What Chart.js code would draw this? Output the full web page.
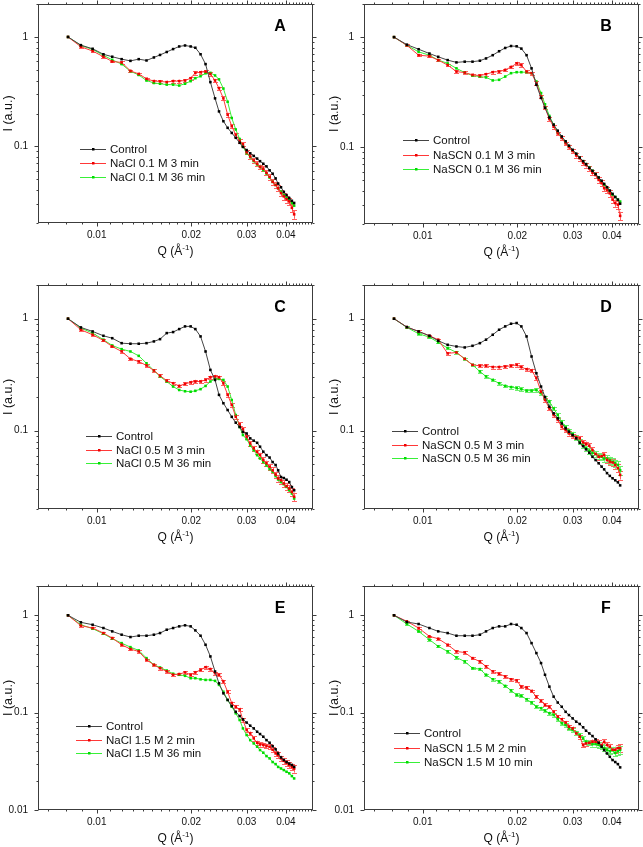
<!DOCTYPE html>
<html><head><meta charset="utf-8">
<script src="https://cdn.jsdelivr.net/npm/chart.js@4.4.1/dist/chart.umd.min.js"></script>
<style>
html,body{margin:0;padding:0;background:#fff;width:643px;height:847px;overflow:hidden;}
.cell{position:absolute;}
canvas{display:block;}
</style></head><body>
<div class="cell" style="left:0;top:0"><canvas id="cA" width="321" height="280"></canvas></div>
<div class="cell" style="left:321px;top:0"><canvas id="cB" width="322" height="280"></canvas></div>
<div class="cell" style="left:0;top:280px"><canvas id="cC" width="321" height="280"></canvas></div>
<div class="cell" style="left:321px;top:280px"><canvas id="cD" width="322" height="280"></canvas></div>
<div class="cell" style="left:0;top:560px"><canvas id="cE" width="321" height="287"></canvas></div>
<div class="cell" style="left:321px;top:560px"><canvas id="cF" width="322" height="287"></canvas></div>
<script>
const FONT = "'Liberation Sans', Arial, Helvetica, sans-serif";

// Q values (Å^-1) shared by all curves
const qValues = [0.0081,0.0089,0.0097,0.0105,0.0112,0.0120,0.0128,0.0136,0.0144,0.0152,0.0159,0.0167,0.0175,0.0183,0.0191,0.0199,0.0206,0.0214,0.0222,0.0230,0.0238,0.0245,0.0253,0.0261,0.0269,0.0277,0.0285,0.0292,0.0300,0.0308,0.0316,0.0324,0.0331,0.0339,0.0347,0.0355,0.0363,0.0371,0.0378,0.0386,0.0394,0.0402,0.0410,0.0418,0.0425];

// tick labels
const xTickLabels = [0.01, 0.02, 0.03, 0.04];
const yTickLabelsAD = [1, 0.1];
const yTickLabelsEF = [1, 0.1, 0.01];

// relative error of the time-resolved curves
const relErr = [0,0.02,0.02,0.02,0.02,0.025,0.025,0.025,0.025,0.03,0.03,0.03,0.03,0.03,0.03,0.035,0.035,0.035,0.035,0.035,0.035,0.035,0.04,0.04,0.04,0.04,0.04,0.045,0.045,0.045,0.05,0.05,0.05,0.055,0.055,0.06,0.06,0.06,0.065,0.065,0.07,0.07,0.075,0.08,0.09];

// Panel A
const ctrlA = [1.0,0.842,0.78,0.695,0.66,0.627,0.605,0.627,0.61,0.65,0.685,0.729,0.775,0.819,0.836,0.819,0.797,0.695,0.565,0.387,0.275,0.209,0.17,0.148,0.133,0.12,0.108,0.099,0.0927,0.0866,0.082,0.0775,0.0734,0.0695,0.0658,0.0605,0.0564,0.0511,0.0458,0.0424,0.0385,0.036,0.0338,0.0319,0.0305];
const redA = [1.0,0.814,0.744,0.66,0.597,0.585,0.49,0.46,0.415,0.395,0.393,0.387,0.395,0.395,0.40,0.42,0.47,0.476,0.483,0.46,0.40,0.34,0.275,0.195,0.153,0.128,0.112,0.105,0.0885,0.081,0.0745,0.0695,0.065,0.0627,0.0575,0.0528,0.0475,0.0445,0.0415,0.0375,0.035,0.033,0.0315,0.0275,0.024];
const greenA = [1.0,0.836,0.77,0.68,0.618,0.565,0.486,0.45,0.40,0.38,0.374,0.367,0.367,0.36,0.374,0.395,0.42,0.438,0.466,0.47,0.445,0.41,0.338,0.256,0.182,0.143,0.117,0.0995,0.0865,0.0797,0.0735,0.0685,0.065,0.0607,0.0566,0.052,0.0475,0.0445,0.0415,0.0387,0.036,0.034,0.0325,0.0304,0.0288];
// Panel B
const ctrlB = [1.0,0.854,0.776,0.709,0.662,0.618,0.589,0.598,0.598,0.61,0.64,0.685,0.744,0.797,0.83,0.825,0.786,0.685,0.52,0.369,0.28,0.228,0.186,0.16,0.141,0.125,0.113,0.103,0.0946,0.0873,0.0803,0.0745,0.07,0.0648,0.0609,0.0568,0.053,0.0495,0.0463,0.0432,0.0403,0.0376,0.0352,0.0333,0.0306];
const redB = [1.0,0.842,0.685,0.671,0.618,0.557,0.486,0.476,0.454,0.447,0.46,0.48,0.486,0.503,0.535,0.577,0.557,0.486,0.47,0.382,0.29,0.228,0.18,0.153,0.133,0.121,0.108,0.1,0.092,0.084,0.079,0.072,0.0686,0.064,0.0585,0.0557,0.0503,0.047,0.0423,0.0408,0.038,0.0333,0.031,0.030,0.0237];
const greenB = [1.0,0.842,0.734,0.685,0.618,0.577,0.52,0.476,0.447,0.438,0.43,0.404,0.409,0.438,0.47,0.48,0.48,0.48,0.47,0.395,0.31,0.245,0.192,0.16,0.136,0.122,0.11,0.101,0.093,0.0856,0.0802,0.0745,0.07,0.0655,0.0609,0.0568,0.0527,0.0487,0.0455,0.043,0.0395,0.0369,0.0352,0.0333,0.032];
// Panel C
const ctrlC = [1.0,0.836,0.77,0.704,0.67,0.605,0.598,0.598,0.605,0.627,0.657,0.744,0.76,0.808,0.854,0.854,0.808,0.695,0.51,0.349,0.284,0.209,0.176,0.153,0.133,0.118,0.108,0.0975,0.0945,0.0855,0.0815,0.078,0.072,0.065,0.0605,0.0576,0.0525,0.0494,0.0443,0.0386,0.0378,0.0365,0.0348,0.0314,0.0294];
const redC = [1.0,0.797,0.719,0.64,0.565,0.51,0.438,0.415,0.382,0.345,0.31,0.28,0.265,0.251,0.262,0.27,0.275,0.275,0.284,0.30,0.305,0.30,0.265,0.209,0.17,0.133,0.114,0.103,0.0885,0.077,0.0697,0.0647,0.0605,0.0547,0.0512,0.0478,0.0443,0.0406,0.0375,0.0361,0.0338,0.032,0.0305,0.0285,0.0257];
const greenC = [1.0,0.825,0.744,0.65,0.577,0.535,0.51,0.466,0.4,0.345,0.305,0.275,0.248,0.231,0.225,0.223,0.227,0.235,0.251,0.275,0.29,0.29,0.284,0.248,0.188,0.138,0.108,0.0915,0.084,0.0738,0.067,0.0605,0.0565,0.0525,0.049,0.0454,0.043,0.0393,0.0367,0.0348,0.0333,0.0315,0.0294,0.0275,0.0248];
// Panel D
const ctrlD = [1.0,0.842,0.77,0.704,0.635,0.585,0.565,0.554,0.573,0.605,0.65,0.719,0.797,0.854,0.902,0.915,0.854,0.695,0.46,0.326,0.248,0.20,0.164,0.143,0.129,0.116,0.105,0.098,0.0915,0.0855,0.078,0.0728,0.0682,0.0636,0.0585,0.0547,0.0512,0.0478,0.0452,0.0418,0.0395,0.0376,0.0361,0.0346,0.0325];
const redD = [1.0,0.842,0.77,0.704,0.65,0.49,0.50,0.438,0.387,0.38,0.38,0.37,0.37,0.374,0.38,0.387,0.37,0.354,0.345,0.295,0.223,0.188,0.158,0.138,0.125,0.108,0.101,0.0945,0.0895,0.088,0.0855,0.0785,0.0762,0.0735,0.0672,0.062,0.0585,0.0592,0.0605,0.0547,0.053,0.052,0.0495,0.0464,0.0403];
const greenD = [1.0,0.836,0.734,0.685,0.614,0.547,0.50,0.438,0.387,0.338,0.305,0.284,0.265,0.251,0.245,0.24,0.235,0.228,0.228,0.231,0.216,0.198,0.182,0.158,0.138,0.12,0.108,0.1,0.0935,0.0872,0.08,0.0735,0.0697,0.0662,0.0636,0.062,0.0592,0.0585,0.0565,0.0565,0.0547,0.053,0.0512,0.0495,0.0443];
// Panel E
const ctrlE = [1.0,0.847,0.80,0.74,0.684,0.632,0.598,0.617,0.617,0.632,0.657,0.711,0.74,0.77,0.789,0.77,0.70,0.617,0.498,0.378,0.265,0.20,0.158,0.135,0.117,0.102,0.0923,0.0854,0.0791,0.0735,0.0689,0.0637,0.0603,0.0566,0.0522,0.0491,0.0453,0.042,0.0381,0.0347,0.0326,0.0311,0.030,0.029,0.0277];
const redE = [1.0,0.783,0.74,0.657,0.584,0.498,0.45,0.425,0.349,0.31,0.286,0.265,0.245,0.249,0.259,0.245,0.259,0.275,0.293,0.28,0.254,0.245,0.209,0.164,0.125,0.115,0.108,0.0841,0.0662,0.0612,0.0544,0.0491,0.0472,0.0466,0.0455,0.0447,0.0416,0.0381,0.0366,0.0339,0.032,0.0305,0.029,0.0277,0.0266];
const greenE = [1.0,0.80,0.729,0.647,0.575,0.518,0.471,0.436,0.363,0.31,0.291,0.271,0.251,0.245,0.239,0.226,0.226,0.22,0.217,0.217,0.212,0.193,0.164,0.135,0.115,0.0985,0.0841,0.0689,0.0589,0.0522,0.0483,0.0447,0.0413,0.0388,0.0358,0.0339,0.0311,0.0296,0.0277,0.0267,0.0257,0.0247,0.0238,0.0223,0.0211];
// Panel F
const ctrlF = [1.0,0.853,0.814,0.74,0.684,0.657,0.617,0.617,0.617,0.632,0.684,0.74,0.77,0.77,0.814,0.80,0.74,0.657,0.518,0.409,0.323,0.245,0.185,0.146,0.127,0.115,0.102,0.0945,0.0873,0.0808,0.0765,0.0707,0.0652,0.0612,0.0575,0.0532,0.0491,0.0447,0.0413,0.0381,0.0352,0.0326,0.0311,0.0296,0.0274];
const redF = [1.0,0.867,0.74,0.608,0.575,0.498,0.425,0.415,0.363,0.335,0.298,0.265,0.251,0.235,0.22,0.214,0.185,0.181,0.167,0.146,0.132,0.12,0.115,0.102,0.0909,0.0854,0.0791,0.0718,0.0689,0.0612,0.0566,0.0464,0.0483,0.049,0.0502,0.0502,0.049,0.0466,0.0502,0.0466,0.0447,0.0416,0.0416,0.0432,0.0432];
const greenF = [1.0,0.814,0.684,0.562,0.48,0.425,0.369,0.335,0.286,0.28,0.245,0.22,0.209,0.188,0.169,0.152,0.149,0.137,0.127,0.115,0.111,0.105,0.0985,0.0945,0.0854,0.0776,0.0746,0.0689,0.0662,0.0622,0.0589,0.0544,0.0503,0.049,0.0475,0.0475,0.0466,0.0447,0.0432,0.0416,0.0402,0.041,0.0386,0.0402,0.0416];

const namesA = ['Control','NaCl 0.1 M 3 min','NaCl 0.1 M 36 min'];
const namesB = ['Control','NaSCN 0.1 M 3 min','NaSCN 0.1 M 36 min'];
const namesC = ['Control','NaCl 0.5 M 3 min','NaCl 0.5 M 36 min'];
const namesD = ['Control','NaSCN 0.5 M 3 min','NaSCN 0.5 M 36 min'];
const namesE = ['Control','NaCl 1.5 M 2 min','NaCl 1.5 M 36 min'];
const namesF = ['Control','NaSCN 1.5 M 2 min','NaSCN 1.5 M 10 min'];

const styles = [
  {line:'#444444', mark:'#000000', err:null},
  {line:'#ff3838', mark:'#ee0000', err:'#ff6060'},
  {line:'#38f038', mark:'#00dd00', err:'#70ee70'}
];

const panels = [
  {id:'cA', w:321, h:280, area:{l:38,r:313,t:1,b:223}, yMin:0.02, yLabels:yTickLabelsAD, letter:'A', names:namesA, series:[ctrlA,redA,greenA], errs:[false,true,false], lg:{x:42,y:145,dy:14}},
  {id:'cB', w:322, h:280, area:{l:43,r:320,t:1,b:224}, yMin:0.02, yLabels:yTickLabelsAD, letter:'B', names:namesB, series:[ctrlB,redB,greenB], errs:[false,true,false], lg:{x:39,y:136,dy:14.5}},
  {id:'cC', w:321, h:280, area:{l:38,r:313,t:5,b:229}, yMin:0.02, yLabels:yTickLabelsAD, letter:'C', names:namesC, series:[ctrlC,redC,greenC], errs:[false,true,false], lg:{x:48,y:151,dy:13.5}},
  {id:'cD', w:322, h:280, area:{l:43,r:320,t:5,b:229}, yMin:0.02, yLabels:yTickLabelsAD, letter:'D', names:namesD, series:[ctrlD,redD,greenD], errs:[false,true,true], lg:{x:28,y:146,dy:13.5}},
  {id:'cE', w:321, h:287, area:{l:38,r:313,t:26,b:250}, yMin:0.01, yLabels:yTickLabelsEF, letter:'E', names:namesE, series:[ctrlE,redE,greenE], errs:[false,true,false], lg:{x:38,y:140,dy:13.5}},
  {id:'cF', w:322, h:287, area:{l:43,r:320,t:26,b:250}, yMin:0.01, yLabels:yTickLabelsEF, letter:'F', names:namesF, series:[ctrlF,redF,greenF], errs:[false,true,true], lg:{x:30,y:147,dy:14.5}}
];

const near = (a,b) => Math.abs(a-b) < 1e-9*Math.max(1,Math.abs(b)) + 1e-12;

function makePanel(p) {
  const a = p.area;
  const xTicks = [];
  for (let k = 7; k <= 48; k++) xTicks.push(k/1000);
  const yTicks = [];
  [0.01, 0.1, 1].forEach(dec => { for (let m = 1; m <= 9; m++) { const v = +(m*dec).toPrecision(4); if (v >= p.yMin - 1e-9 && v <= 2 + 1e-9) yTicks.push(v); } });
  const isXMajor = v => xTickLabels.some(t => near(v,t));
  const isYMajor = v => p.yLabels.some(t => near(v,t));

  const datasets = p.series.map((s,i) => ({
    label: p.names[i],
    data: qValues.map((q,j) => ({x:q, y:s[j]})),
    borderColor: styles[i].line,
    backgroundColor: styles[i].mark,
    pointBackgroundColor: styles[i].mark,
    pointBorderColor: styles[i].mark,
    pointBorderWidth: 0,
    pointStyle: 'rect',
    pointRadius: 1.8,
    borderWidth: 1,
    tension: 0,
    errRel: p.errs[i] ? relErr : null,
    errColor: styles[i].err
  }));

  const decor = {
    id: 'decor' + p.letter,
    beforeDatasetsDraw(chart) {
      const ctx = chart.ctx, ys = chart.scales.y;
      ctx.save();
      ctx.lineWidth = 1;
      chart.data.datasets.forEach((ds, i) => {
        if (!ds.errRel) return;
        const meta = chart.getDatasetMeta(i);
        ctx.strokeStyle = ds.errColor;
        ctx.beginPath();
        meta.data.forEach((pt, j) => {
          const v = ds.data[j].y, e = ds.errRel[j];
          if (!e) return;
          const x = Math.round(pt.x) + 0.5;
          const y1 = ys.getPixelForValue(v*(1+e)), y2 = ys.getPixelForValue(v*(1-e));
          ctx.moveTo(x, y1); ctx.lineTo(x, y2);
          ctx.moveTo(x-2.5, Math.round(y1)+0.5); ctx.lineTo(x+2.5, Math.round(y1)+0.5);
          ctx.moveTo(x-2.5, Math.round(y2)+0.5); ctx.lineTo(x+2.5, Math.round(y2)+0.5);
        });
        ctx.stroke();
      });
      ctx.restore();
    },
    afterDatasetsDraw(chart) {
      const ctx = chart.ctx, ca = chart.chartArea;
      const xs = chart.scales.x, ys = chart.scales.y;
      ctx.save();
      // frame
      ctx.strokeStyle = '#3c3c3c'; ctx.lineWidth = 1;
      const L = Math.round(ca.left) + 0.5, R = Math.round(ca.right) - 0.5;
      const T = Math.round(ca.top) + 0.5, B = Math.round(ca.bottom) - 0.5;
      ctx.strokeRect(L, T, R - L, B - T);
      ctx.beginPath();
      xTicks.forEach(v => {
        const x = Math.round(xs.getPixelForValue(v)) + 0.5;
        const len = isXMajor(v) ? 4 : 2;
        ctx.moveTo(x, B); ctx.lineTo(x, B + len);
        ctx.moveTo(x, T); ctx.lineTo(x, T - len);
      });
      yTicks.forEach(v => {
        const y = Math.round(ys.getPixelForValue(v)) + 0.5;
        const len = isYMajor(v) ? 4 : 2;
        ctx.moveTo(L, y); ctx.lineTo(L - len, y);
        ctx.moveTo(R, y); ctx.lineTo(R + len, y);
      });
      ctx.stroke();

      // legend
      const lg = p.lg;
      chart.data.datasets.forEach((ds, i) => {
        const y = Math.round(ca.top + lg.y + i*lg.dy) + 0.5;
        const x0 = ca.left + lg.x;
        ctx.strokeStyle = ds.borderColor; ctx.lineWidth = 1;
        ctx.beginPath(); ctx.moveTo(x0, y); ctx.lineTo(x0 + 26, y); ctx.stroke();
        ctx.fillStyle = ds.pointBackgroundColor;
        ctx.fillRect(Math.round(x0 + 13) - 1, y - 1.5, 2.5, 2.5);
        ctx.fillStyle = '#111';
        ctx.font = '11.5px ' + FONT;
        ctx.textAlign = 'left'; ctx.textBaseline = 'middle';
        ctx.fillText(ds.label, x0 + 30, y + 0.5);
      });

      // panel letter
      ctx.fillStyle = '#000';
      ctx.font = 'bold 16px ' + FONT;
      ctx.textAlign = 'center'; ctx.textBaseline = 'middle';
      ctx.fillText(p.letter, ca.right - 33, ca.top + 23);

      // x title with superscript
      const cx = (ca.left + ca.right) / 2, by = ca.bottom + 32;
      const mainF = '12px ' + FONT, supF = '8px ' + FONT;
      ctx.font = mainF; const w1 = ctx.measureText('Q (Å').width, w3 = ctx.measureText(')').width;
      ctx.font = supF; const w2 = ctx.measureText('-1').width;
      let sx = cx - (w1 + w2 + w3) / 2;
      ctx.textAlign = 'left'; ctx.textBaseline = 'alphabetic'; ctx.fillStyle = '#111';
      ctx.font = mainF; ctx.fillText('Q (Å', sx, by); sx += w1;
      ctx.font = supF; ctx.fillText('-1', sx, by - 5); sx += w2;
      ctx.font = mainF; ctx.fillText(')', sx, by);

      // y title
      ctx.save();
      ctx.translate(ca.left - 29, (ca.top + ca.bottom) / 2);
      ctx.rotate(-Math.PI / 2);
      ctx.font = '12.5px ' + FONT; ctx.textAlign = 'center'; ctx.textBaseline = 'middle';
      ctx.fillText('I (a.u.)', 0, 0);
      ctx.restore();
      ctx.restore();
    }
  };

  new Chart(document.getElementById(p.id), {
    type: 'line',
    data: { datasets },
    options: {
      responsive: false, animation: false, devicePixelRatio: 1,
      layout: { padding: { left: 0, top: a.t, right: p.w - a.r, bottom: 0 } },
      plugins: { legend: { display: false }, tooltip: { enabled: false } },
      scales: {
        x: {
          type: 'logarithmic', position: 'bottom', min: 0.0065, max: 0.0488,
          afterBuildTicks: s => { s.ticks = xTicks.map(v => ({ value: v })); },
          afterFit: s => { s.height = p.h - a.b; s.paddingLeft = 0; s.paddingRight = 0; },
          grid: { display: false, drawTicks: false }, border: { display: false },
          ticks: { autoSkip: false, maxRotation: 0, minRotation: 0, padding: 6, color: '#111',
                   font: { size: 10, family: FONT },
                   callback: v => isXMajor(v) ? String(xTickLabels.find(t => near(v,t))) : '' }
        },
        y: {
          type: 'logarithmic', position: 'left', min: p.yMin, max: 2,
          afterBuildTicks: s => { s.ticks = yTicks.map(v => ({ value: v })); },
          afterFit: s => { s.width = a.l; s.paddingTop = 0; s.paddingBottom = 0; },
          grid: { display: false, drawTicks: false }, border: { display: false },
          ticks: { autoSkip: false, padding: 10, color: '#111',
                   font: { size: 10, family: FONT },
                   callback: v => isYMajor(v) ? String(p.yLabels.find(t => near(v,t))) : '' }
        }
      }
    },
    plugins: [decor]
  });
}

panels.forEach(makePanel);
</script>
</body></html>
